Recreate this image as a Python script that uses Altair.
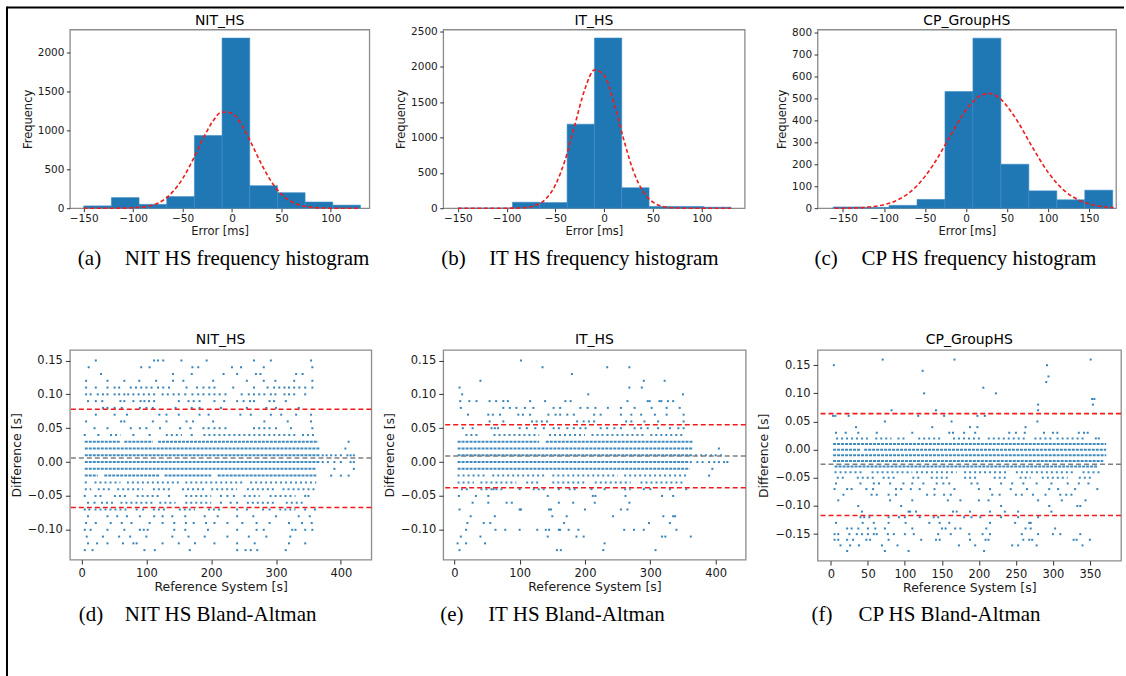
import altair as alt
import pandas as pd

FONT = "DejaVu Sans"
SERIF = "Liberation Serif"
BLUE = "#1f77b4"
RED = "#ee1c1c"
GRAY = "#7f7f7f"

# ---------------- histogram data ----------------
panel_titles = ["NIT_HS", "IT_HS", "CP_GroupHS"]

nit_edges = [-150, -122, -94, -66, -38, -10, 18, 46, 74, 102, 130]
nit_counts = [30, 137, 50, 150, 935, 2190, 290, 200, 80, 40]
nit_curve_x = [-150, -130, -110, -90, -70, -50, -40, -30, -20, -10, 0, 10, 20, 30, 40, 50, 60, 70, 90, 110, 130]
nit_curve_y = [0, 0, 2, 16, 100, 380, 613, 877, 1108, 1238, 1223, 1068, 825, 563, 340, 181, 86, 36, 4, 0, 0]

it_edges = [-150, -122, -94, -66, -38, -10, 18, 46, 74, 102, 130]
it_counts = [1, 2, 85, 80, 1190, 2410, 290, 25, 25, 15]
it_curve_x = [-150, -110, -90, -80, -70, -60, -50, -40, -30, -20, -10, 0, 10, 20, 30, 40, 50, 60, 70, 90, 130]
it_curve_y = [0, 0, 2, 11, 42, 130, 330, 686, 1185, 1676, 1958, 1884, 1492, 974, 523, 232, 85, 25, 6, 0, 0]

cp_edges = [-162, -127.9, -93.8, -59.7, -25.6, 8.5, 42.6, 76.7, 110.8, 144.9, 179]
cp_counts = [6, 4, 13, 40, 530, 773, 200, 79, 38, 82]
cp_curve_x = [-160, -140, -120, -100, -80, -60, -40, -20, 0, 10, 20, 30, 40, 60, 80, 100, 120, 140, 160, 180]
cp_curve_y = [0, 1, 5, 16, 44, 101, 197, 323, 446, 490, 516, 521, 503, 412, 284, 164, 80, 33, 11, 3]

hist_xticks = [-150, -100, -50, 0, 50, 100]
cp_xticks = [-150, -100, -50, 0, 50, 100, 150]
nit_yticks = [0, 500, 1000, 1500, 2000]
it_yticks = [0, 500, 1000, 1500, 2000, 2500]
cp_yticks = [0, 100, 200, 300, 400, 500, 600, 700, 800]

# ---------------- Bland-Altman data (difference level [s], reference times [s]) ----------------
nit_points = [
    (0.15, [22, 112, 118, 126, 154, 193, 266, 292, 354]),
    (0.14, [11, 92, 105, 171, 180, 232, 246, 281, 356]),
    (0.13, [30, 141, 170, 219, 240, 269, 276, 331, 341]),
    (0.12, [7, 40, 66, 89, 115, 141, 157, 203, 255, 281, 299, 328, 356]),
    (0.11, [7, 22, 40, 51, 58, 76, 84, 92, 100, 108, 118, 126, 135, 162, 178, 188, 197, 205, 234, 266, 287, 297, 305, 313, 320, 328, 336, 345, 356]),
    (0.10, [7, 14, 25, 33, 40, 51, 58, 66, 72, 80, 88, 96, 104, 112, 125, 133, 142, 150, 160, 171, 180, 188, 197, 205, 213, 222, 247, 258, 266, 274, 282, 292, 299, 313, 320, 328, 345]),
    (0.09, [10, 22, 32, 60, 66, 80, 91, 97, 104, 112, 150, 165, 173, 182, 205, 220, 240, 250, 260, 266, 290, 297, 315]),
    (0.08, [33, 40, 51, 62, 90, 100, 110, 145, 170, 182, 215, 255, 285, 300, 335]),
    (0.07, [22, 51, 70, 120, 131, 150, 182, 196, 245, 261, 292, 308, 331, 354]),
    (0.06, [7, 61, 66, 110, 131, 162, 172, 203, 282, 318, 354]),
    (0.05, [20, 40, 76, 90, 100, 121, 152, 168, 188, 196, 205, 213, 222, 266, 274, 282, 290, 300, 323, 356]),
    (0.04, [5, 26, 80, 105, 170]),
    (0.03, [412]),
    (0.02, [407]),
    (0.01, [372, 378, 385, 392, 400, 410, 415, 420]),
    (0.00, [372, 380, 390, 400, 415, 420]),
    (-0.01, [390, 420]),
    (-0.02, [385, 400, 412]),
    (-0.05, [5, 135, 215, 225, 235, 345, 350]),
    (-0.06, [10, 20, 215, 230, 240]),
    (-0.07, [5, 12, 85, 95, 240, 255, 280, 290, 345, 360]),
    (-0.08, [10, 40, 55, 70, 90, 112, 125, 140, 160, 190, 210, 240, 265, 300, 335, 352]),
    (-0.09, [7, 22, 45, 62, 77, 105, 125, 143, 161, 173, 192, 205, 225, 248, 270, 290, 320, 340, 355]),
    (-0.10, [5, 14, 40, 66, 90, 96, 102, 143, 160, 195, 240, 270, 281, 325, 330, 345, 356]),
    (-0.11, [8, 33, 58, 75, 100, 140, 165, 190, 225, 258, 285, 322]),
    (-0.12, [10, 24, 40, 64, 80, 85, 125, 150, 175, 205, 240, 267, 320, 345]),
    (-0.13, [5, 17, 97, 113, 167, 240, 253, 261, 271, 315]),
]
nit_dense = [
    (0.03, [(5, 60), (66, 110), (118, 365)]),
    (0.02, [(5, 368)]),
    (0.01, [(5, 368)]),
    (0.00, [(5, 368)]),
    (-0.01, [(5, 362)]),
    (-0.02, [(5, 25), (35, 120), (128, 200), (210, 362)]),
]
nit_medium = [
    (0.04, [(44, 60), (130, 155), (188, 330), (340, 360)]),
    (-0.03, [(5, 10), (20, 60), (70, 150), (160, 250), (260, 362)]),
    (-0.04, [(5, 15), (25, 45), (55, 95), (110, 140), (155, 190), (200, 240), (255, 300), (310, 360)]),
    (-0.05, [(20, 35), (50, 70), (85, 120), (160, 200), (250, 275), (290, 330)]),
    (-0.06, [(30, 50), (60, 110), (120, 145), (160, 200), (255, 300), (315, 345)]),
    (-0.07, [(20, 70), (110, 130), (150, 175), (195, 215), (305, 330)]),
]

it_points = [
    (0.15, [102]),
    (0.14, [135, 234, 268]),
    (0.13, [180]),
    (0.12, [40, 290, 322]),
    (0.11, [8, 268, 287]),
    (0.10, [12, 205, 350]),
    (0.09, [9, 23, 34, 54, 64, 75, 82, 116, 139, 170, 178, 265, 296, 299, 314, 317, 327, 335]),
    (0.08, [10, 75, 85, 95, 108, 121, 152, 162, 193, 204, 216, 235, 255, 276, 302, 325, 345]),
    (0.07, [21, 52, 59, 70, 98, 105, 116, 144, 155, 162, 173, 183, 214, 224, 255, 271, 286, 307, 325, 351]),
    (0.06, [54, 75, 119, 126, 134, 142, 188, 198, 206, 214, 263, 271, 291, 312, 351]),
    (0.05, [13, 28, 57, 62, 67, 100, 111, 124, 137, 152, 160, 173, 183, 193, 201, 224, 234, 245, 255, 276, 286, 296, 312, 330, 343, 351]),
    (0.02, [405]),
    (0.01, [370, 378, 385, 393, 400, 408]),
    (0.00, [362, 372, 380, 390, 398, 405, 413, 418]),
    (-0.01, [395]),
    (-0.02, [390]),
    (-0.04, [60, 100, 160, 210, 230, 290, 300, 330, 355]),
    (-0.05, [7, 33, 52, 143, 212, 216, 262, 318, 335]),
    (-0.06, [28, 52, 80, 88, 160, 182, 215, 268]),
    (-0.07, [8, 100, 102, 145, 148, 200, 255, 265]),
    (-0.08, [25, 62, 150, 172, 243, 320, 335, 338]),
    (-0.09, [20, 45, 55, 168, 298, 330]),
    (-0.10, [18, 63, 78, 100, 127, 140, 145, 160, 162, 175, 190, 260, 275, 290, 340]),
    (-0.11, [10, 40, 143, 187, 198, 318, 323, 362]),
    (-0.12, [5, 18, 47, 230]),
    (-0.13, [8, 157, 163, 228, 308]),
]
it_dense = [
    (0.03, [(5, 130), (140, 365)]),
    (0.02, [(5, 365)]),
    (0.01, [(5, 365)]),
    (0.00, [(5, 358)]),
    (-0.01, [(5, 360)]),
]
it_medium = [
    (0.04, [(17, 40), (60, 130), (145, 200), (210, 290), (300, 352)]),
    (-0.02, [(5, 50), (58, 140), (150, 250), (260, 355)]),
    (-0.03, [(5, 30), (40, 95), (110, 130), (150, 200), (215, 270), (285, 350)]),
    (-0.04, [(10, 25), (40, 75), (120, 140), (175, 190), (260, 270)]),
]

cp_points = [
    (0.16, [70, 167, 351]),
    (0.15, [4, 292]),
    (0.14, [124]),
    (0.13, [294]),
    (0.12, [291]),
    (0.11, [206]),
    (0.10, [126, 223]),
    (0.09, [353, 356]),
    (0.08, [280, 354]),
    (0.07, [82, 142, 280]),
    (0.06, [3, 6, 24, 118, 153, 198, 208]),
    (0.05, [73, 163, 279]),
    (0.04, [34, 137, 188, 198, 263]),
    (0.03, [7, 20, 37, 62, 110, 160, 165, 180, 195, 241, 250, 262, 288, 300, 306, 335, 342, 347]),
    (0.02, [358, 362]),
    (-0.06, [7, 40, 58, 65, 80, 98, 110, 125, 143, 152, 160, 190, 198, 230, 245, 260, 278, 298, 320, 335, 348]),
    (-0.07, [5, 22, 28, 48, 57, 88, 95, 108, 120, 140, 167, 200, 215, 243, 265, 295, 307, 330, 360]),
    (-0.08, [17, 55, 62, 78, 88, 130, 140, 153, 162, 218, 228, 250, 258, 273, 290, 310, 318, 325]),
    (-0.09, [10, 80, 110, 158, 175, 200, 213, 280, 312, 344]),
    (-0.10, [37, 95, 230, 295, 333, 337]),
    (-0.11, [42, 105, 107, 115, 165, 170, 188, 215, 235, 253, 298]),
    (-0.12, [40, 45, 52, 78, 92, 100, 120, 139, 145, 180, 190, 202, 230, 253, 280]),
    (-0.13, [7, 43, 58, 78, 101, 133, 147, 160, 215, 249, 268, 270]),
    (-0.14, [22, 28, 37, 50, 60, 73, 110, 150, 155, 168, 175, 210, 263, 270, 303]),
    (-0.15, [5, 10, 25, 35, 42, 50, 58, 62, 77, 85, 100, 112, 145, 162, 187, 205, 215, 258, 280, 300, 310, 337]),
    (-0.16, [5, 10, 22, 30, 48, 53, 78, 122, 142, 147, 188, 209, 213, 260, 268, 272, 328, 332, 350]),
    (-0.17, [13, 26, 38, 69, 90, 173, 195, 245, 253, 278, 340]),
    (-0.18, [22, 73, 105, 207]),
]
cp_dense = [
    (0.01, [(3, 372)]),
    (0.00, [(3, 40), (45, 372)]),
    (-0.01, [(3, 372)]),
    (-0.02, [(3, 368)]),
    (-0.03, [(5, 360)]),
]
cp_medium = [
    (0.02, [(7, 50), (60, 82), (90, 100), (118, 150), (165, 205), (212, 262), (275, 300), (305, 345)]),
    (-0.04, [(5, 45), (55, 110), (115, 170), (180, 240), (250, 330), (340, 365)]),
    (-0.05, [(8, 20), (35, 60), (70, 90), (110, 120), (135, 160), (180, 200), (220, 240), (255, 270), (285, 320), (335, 355)]),
]

# limits of agreement (upper, lower) and mean difference [s]
nit_limits, nit_mean = [0.078, -0.067], 0.006
it_limits, it_mean = [0.055, -0.038], 0.009
cp_limits, cp_mean = [0.064, -0.117], -0.026

ba_xticks = [0, 100, 200, 300, 400]
cp_ba_xticks = [0, 50, 100, 150, 200, 250, 300, 350]
ba_yticks = [-0.10, -0.05, 0.0, 0.05, 0.10, 0.15]
cp_ba_yticks = [-0.15, -0.10, -0.05, 0.0, 0.05, 0.10, 0.15]

caption_labels = ["(a)", "(b)", "(c)", "(d)", "(e)", "(f)"]
caption_texts = ["NIT HS frequency histogram", "IT HS frequency histogram", "CP HS frequency histogram",
                 "NIT HS Bland-Altman", "IT HS Bland-Altman", "CP HS Bland-Altman"]


def make_axis(title, values, fmt, lsize, tsize, tick, lpad, tpad):
    return alt.Axis(title=title, values=values, format=fmt, labelFont=FONT, titleFont=FONT,
                    labelFontSize=lsize, titleFontSize=tsize, titleFontWeight="normal",
                    labelColor="#1a1a1a", titleColor="#1a1a1a", tickColor="#333333",
                    tickSize=tick, tickWidth=1, labelPadding=lpad, titlePadding=tpad,
                    domain=False, grid=False, labelFlush=False, labelOverlap=False)


def text_layer(text, x, y, font, size, align):
    return alt.Chart(pd.DataFrame({"t": [text]})).mark_text(
        font=font, fontSize=size, align=align, baseline="alphabetic", color="black"
    ).encode(text="t:N", x=alt.value(x), y=alt.value(y))


def annotation_layers(i, w, title_y, cap_dx, cap_y):
    return [
        text_layer(panel_titles[i % 3], w / 2, title_y, FONT, 14, "center"),
        text_layer(caption_labels[i], cap_dx[0], cap_y, SERIF, 21, "left"),
        text_layer(caption_texts[i], cap_dx[1], cap_y, SERIF, 21, "left"),
    ]


def hist_panel(i, edges, counts, cx, cy, xdom, ymax, xticks, yticks, w, h, cap_dx, extra=()):
    bars = pd.DataFrame({"e": edges[:-1], "e2": edges[1:], "f": counts})
    curve = pd.DataFrame({"e": cx, "f": cy})
    X = alt.X("e:Q", scale=alt.Scale(domain=xdom, nice=False, zero=False),
              axis=make_axis("Error [ms]", xticks, "d", 10.5, 11.5, 3.5, 1.5, 2))
    Y = alt.Y("f:Q", scale=alt.Scale(domain=[0, ymax], nice=False),
              axis=make_axis("Frequency", yticks, "d", 10.5, 11.5, 3.5, 2.5, 4))
    b = alt.Chart(bars).mark_rect(color=BLUE, stroke="#3d8bc4", strokeWidth=0.6).encode(
        x=X, x2="e2:Q", y=Y, y2=alt.datum(0))
    c = alt.Chart(curve).mark_line(color=RED, strokeDash=[4, 2.5], strokeWidth=1.6,
                                   interpolate="monotone").encode(x=X, y=Y)
    layers = [b, c] + annotation_layers(i, w, -5, cap_dx, 236) + list(extra)
    return alt.layer(*layers).properties(width=w, height=h)


def ba_panel(i, points, dense, medium, limits, mean, xdom, ydom, xticks, yticks, w, h, cap_dx):
    pts = pd.DataFrame([{"x": x, "d": d} for d, xs in points for x in xs])
    dn = pd.DataFrame([{"x": a, "xe": b, "d": d} for d, runs in dense for a, b in runs])
    md = pd.DataFrame([{"x": a, "xe": b, "d": d} for d, runs in medium for a, b in runs])
    lim = pd.DataFrame({"d": limits})
    mn = pd.DataFrame({"d": [mean]})
    X = alt.X("x:Q", scale=alt.Scale(domain=xdom, nice=False, zero=False),
              axis=make_axis("Reference System [s]", xticks, "d", 11.5, 12.5, 4.5, 3, 2))
    Y = alt.Y("d:Q", scale=alt.Scale(domain=ydom, nice=False, zero=False),
              axis=make_axis("Difference [s]", yticks, ".2f", 11.5, 12.5, 4.5, 3, 4))
    l_dense = alt.Chart(dn).mark_rule(color=BLUE, strokeWidth=2, strokeDash=[3, 1], opacity=0.85).encode(
        x=X, x2="xe:Q", y=Y)
    l_med = alt.Chart(md).mark_rule(color=BLUE, strokeWidth=2, strokeDash=[2, 3], opacity=0.85).encode(
        x=X, x2="xe:Q", y=Y)
    l_pts = alt.Chart(pts).mark_square(color=BLUE, size=4, opacity=0.9).encode(x=X, y=Y)
    l_lim = alt.Chart(lim).mark_rule(color=RED, strokeDash=[5, 3], strokeWidth=1.6).encode(y=Y)
    l_mn = alt.Chart(mn).mark_rule(color=GRAY, strokeDash=[5, 3], strokeWidth=1.6).encode(y=Y)
    layers = [l_dense, l_med, l_pts, l_lim, l_mn] + annotation_layers(i, w, -6, cap_dx, 271)
    return alt.layer(*layers).properties(width=w, height=h)


# figure frame (top and left black rules), attached to panel (a)
frame_df = pd.DataFrame({"k": [0]})
frame_top = alt.Chart(frame_df).mark_rule(color="black", strokeWidth=2).encode(
    x=alt.value(-63), x2=alt.value(1056), y=alt.value(-22))
frame_left = alt.Chart(frame_df).mark_rule(color="black", strokeWidth=2).encode(
    x=alt.value(-63), y=alt.value(-23), y2=alt.value(648))

pa = hist_panel(0, nit_edges, nit_counts, nit_curve_x, nit_curve_y, [-164, 139], 2300,
                hist_xticks, nit_yticks, 300, 179, (8, 55), extra=(frame_top, frame_left))
pb = hist_panel(1, it_edges, it_counts, it_curve_x, it_curve_y, [-165, 144], 2530,
                hist_xticks, it_yticks, 302, 179, (-2, 46))
pc = hist_panel(2, cp_edges, cp_counts, cp_curve_x, cp_curve_y, [-181, 183], 812,
                cp_xticks, cp_yticks, 299, 179, (-3, 44))
pd_ = ba_panel(3, nit_points, nit_dense, nit_medium, nit_limits, nit_mean, [-18, 447], [-0.144, 0.1655],
               ba_xticks, ba_yticks, 302, 210, (9, 55))
pe = ba_panel(4, it_points, it_dense, it_medium, it_limits, it_mean, [-17, 446], [-0.144, 0.1655],
              ba_xticks, ba_yticks, 303, 210, (-3, 45))
pf = ba_panel(5, cp_points, cp_dense, cp_medium, cp_limits, cp_mean, [-18, 392], [-0.197, 0.177],
              cp_ba_xticks, cp_ba_yticks, 304, 211, (-6, 41))

chart = alt.concat(pa, pb, pc, pd_, pe, pf, columns=3, spacing={"row": 142, "column": 72},
                   bounds="flush", align="none").properties(
    padding={"left": 5, "top": 4, "right": 0, "bottom": 0}, background="white"
).configure_view(stroke="#8c8c8c", strokeWidth=1.3)

chart.save("out.html", embed_options={"renderer": "svg", "actions": False})
